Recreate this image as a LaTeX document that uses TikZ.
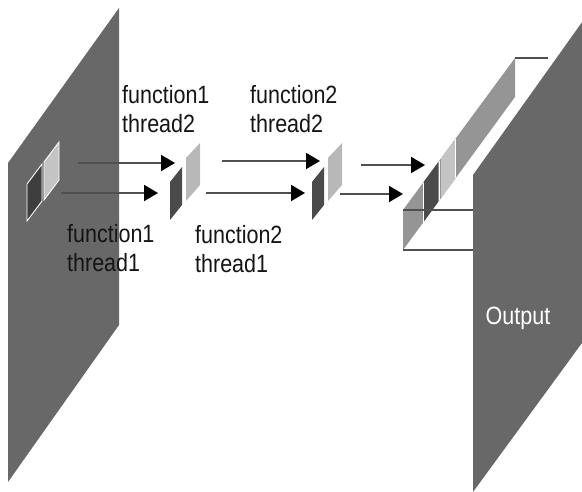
\documentclass[tikz,border=0pt]{standalone}
\usepackage{fontspec}
\setmainfont{Liberation Sans}[FakeStretch=0.86]
\usetikzlibrary{arrows.meta}
\definecolor{panelc}{HTML}{686868}
\definecolor{bandc}{HTML}{959595}
\definecolor{lightc}{HTML}{C4C4C4}
\definecolor{darkc}{HTML}{3E3E3E}
\definecolor{midlight}{HTML}{B8B8B8}
\definecolor{middark}{HTML}{4A4A4A}
\definecolor{arrowc}{HTML}{505050}
\definecolor{textc}{HTML}{151515}
\definecolor{edgec}{HTML}{505050}
\tikzset{
  panel/.style={fill=panelc},
  flow/.style={draw=arrowc, line width=1.9pt, -{Triangle[length=14pt,width=16pt,color=black,fill=black]}},
  lbl/.style={anchor=north west, inner sep=0pt, align=left, text=textc,
    font=\fontsize{25}{29}\selectfont},
  cellrim/.style={draw=white, line width=0.9pt},
  boxedge/.style={draw=edgec, line width=1.1pt},
}
\begin{document}
\begin{tikzpicture}[x=1pt,y=-1pt]
\useasboundingbox (0,0) rectangle (582,491);
\fill[white] (0,0) rectangle (582,491);
\begin{scope}
\clip (0,0) rectangle (582,491);
% input plane
\fill[panel] (8,163) -- (119,8) -- (119,325) -- (8,482) -- cycle;
% output plane
\fill[panel] (473,175) -- (590,11) -- (590,332) -- (473,492) -- cycle;
\end{scope}
% input cells
\filldraw[cellrim, fill=darkc] (27,184) -- (42,164) -- (42,201) -- (27,221) -- cycle;
\filldraw[cellrim, fill=lightc] (44,162) -- (59,142) -- (59,180) -- (44,200) -- cycle;
% stage 1 cells
\fill[middark] (170,182) -- (182,167) -- (182,205) -- (170,220) -- cycle;
\fill[midlight] (186,158) -- (200,143) -- (200,185) -- (186,201) -- cycle;
% stage 2 cells
\fill[middark] (312,182) -- (324,167) -- (324,205) -- (312,220) -- cycle;
\fill[midlight] (328,158) -- (342,143) -- (342,185) -- (328,201) -- cycle;
% output column
\fill[bandc] (403,210) -- (515,58) -- (515,97) -- (403,250) -- cycle;
\fill[darkc!85!bandc] (424,181.5) -- (438,162.5) -- (438,202.2) -- (424,221.3) -- cycle;
\fill[lightc] (441,158.4) -- (455,139.4) -- (455,179) -- (441,198.1) -- cycle;
\draw[white, line width=0.9pt] (423,182.9) -- (423,222.7);
\draw[white, line width=0.9pt] (439.5,160.5) -- (439.5,200.2);
\draw[white, line width=0.9pt] (455.5,138.7) -- (455.5,178.3);
\draw[boxedge] (403,210) -- (473,210);
\draw[boxedge] (403,250) -- (473,250);
\draw[boxedge] (515,58) -- (548,58);
% arrow end points
\coordinate (a1u) at (78,163);  \coordinate (b1u) at (175,163);
\coordinate (a1l) at (61,193);  \coordinate (b1l) at (158,193);
\coordinate (a2u) at (222,161); \coordinate (b2u) at (320,161);
\coordinate (a2l) at (206,193); \coordinate (b2l) at (305,193);
\coordinate (a3u) at (361,165); \coordinate (b3u) at (425,165);
\coordinate (a3l) at (340,194); \coordinate (b3l) at (403,194);
\draw[flow] (a1u) -- (b1u);
\draw[flow] (a1l) -- (b1l);
\draw[flow] (a2u) -- (b2u);
\draw[flow] (a2l) -- (b2l);
\draw[flow] (a3u) -- (b3u);
\draw[flow] (a3l) -- (b3l);
% labels
\node[lbl] (f1t2) at (122,85) {function1\\thread2};
\node[lbl] (f2t2) at (250,85) {function2\\thread2};
\node[lbl] (f1t1) at (67,224) {function1\\thread1};
\node[lbl] (f2t1) at (195,225) {function2\\thread1};
\node[anchor=base, inner sep=0pt, text=white, font=\fontsize{25}{29}\selectfont] (out) at (518,324) {Output};
\end{tikzpicture}
\end{document}
